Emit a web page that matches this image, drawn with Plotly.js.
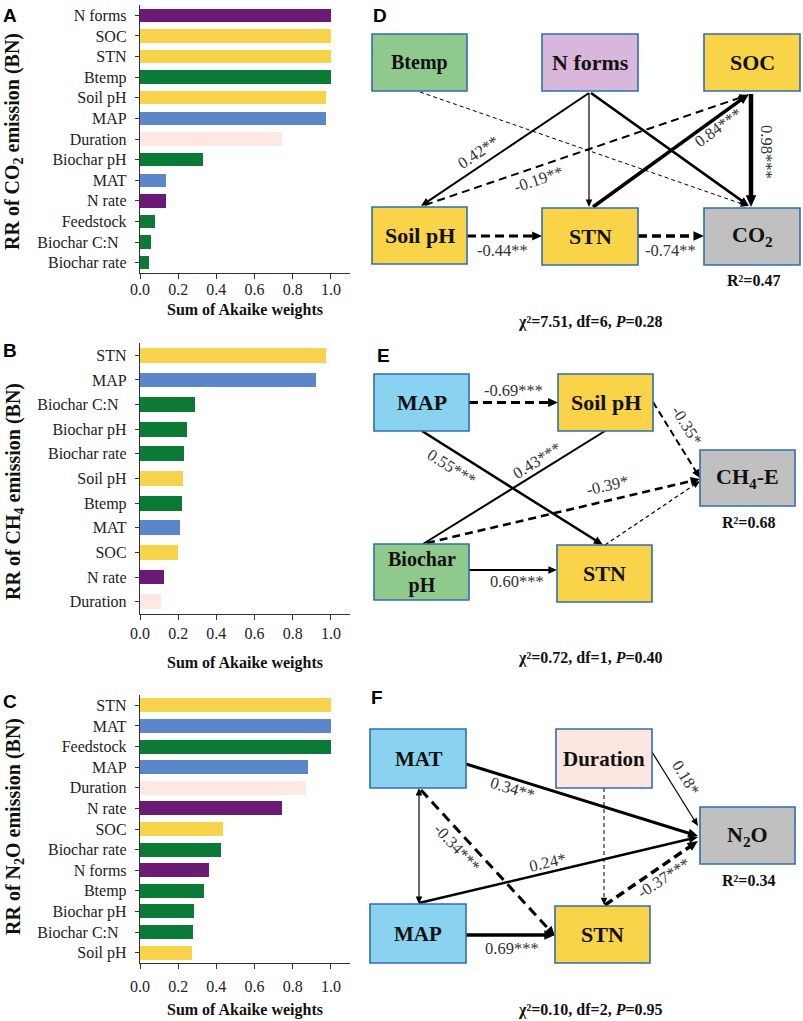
<!DOCTYPE html>
<html><head><meta charset="utf-8">
<script src="https://cdn.plot.ly/plotly-3.0.1.min.js"></script>
<style>html,body{margin:0;padding:0;background:#fff}</style>
</head><body><div id="chart" style="width:803px;height:1021px"></div>
<script>
// ---------------- DATA ----------------
const catsA = ['N forms','SOC','STN','Btemp','Soil pH','MAP','Duration','Biochar pH','MAT','N rate','Feedstock','Biochar C:N','Biochar rate'];
const valsA = [1.0,1.0,1.0,1.0,0.972,0.972,0.742,0.332,0.136,0.134,0.079,0.058,0.049];
const catsB = ['STN','MAP','Biochar C:N','Biochar pH','Biochar rate','Soil pH','Btemp','MAT','SOC','N rate','Duration'];
const valsB = [0.972,0.920,0.286,0.244,0.232,0.227,0.220,0.209,0.199,0.126,0.112];
const catsC = ['STN','MAT','Feedstock','MAP','Duration','N rate','SOC','Biochar rate','N forms','Btemp','Biochar pH','Biochar C:N','Soil pH'];
const valsC = [1.0,1.0,1.0,0.881,0.869,0.742,0.433,0.424,0.361,0.337,0.283,0.277,0.272];
const xTickVals = [0,0.2,0.4,0.6,0.8,1.0];
const groupOf = {'N forms':'N','N rate':'N','SOC':'soil','STN':'soil','Soil pH':'soil',
  'Btemp':'biochar','Biochar pH':'biochar','Feedstock':'biochar','Biochar C:N':'biochar','Biochar rate':'biochar',
  'MAP':'climate','MAT':'climate','Duration':'duration'};

// Path models: from, to, coefficient label
const dFrom = ['Btemp','N forms','Soil pH','N forms','N forms','SOC','STN','Soil pH','STN'];
const dTo   = ['CO2','Soil pH','SOC','STN','CO2','CO2','SOC','STN','CO2'];
const dCoef = ['','0.42**','-0.19**','','','0.98***','0.84***','-0.44**','-0.74**'];
const dFit = {r2:'0.47', chi2:'7.51', df:'6', p:'0.28'};

const eFrom = ['MAP','Soil pH','MAP','Biochar pH','Biochar pH','STN','Biochar pH'];
const eTo   = ['Soil pH','CH4-E','STN','Soil pH','CH4-E','CH4-E','STN'];
const eCoef = ['-0.69***','-0.35*','0.55***','0.43***','-0.39*','','0.60***'];
const eFit = {r2:'0.68', chi2:'0.72', df:'1', p:'0.40'};

const fFrom = ['MAT','Duration','MAT','MAT','MAP','Duration','STN','MAP'];
const fTo   = ['N2O','N2O','MAP','STN','N2O','STN','N2O','STN'];
const fCoef = ['0.34**','0.18*','','-0.34***','0.24*','','-0.37***','0.69***'];
const fFit = {r2:'0.34', chi2:'0.10', df:'2', p:'0.95'};

// ---------------- STYLE / LAYOUT ----------------
const W=803, H=1021;
const SERIF='Liberation Serif, Times New Roman, serif';
const SANS='Liberation Sans, Arial, sans-serif';
const groupColor = {N:'#6b1b74', soil:'#f8d44c', biochar:'#0b7a37', climate:'#5b86c8', duration:'#fde8e3'};
const nodeFill = {'Btemp':'#90c98c','N forms':'#d9b6dc','SOC':'#f9d449','Soil pH':'#f9d449','STN':'#f9d449',
  'CO2':'#c0c0c0','CH4-E':'#c0c0c0','N2O':'#c0c0c0','MAP':'#8ad3f0','MAT':'#8ad3f0','Biochar pH':'#90c98c','Duration':'#fde6df'};
const nodeText = {'CO2':'CO<sub>2</sub>','CH4-E':'CH<sub>4</sub>-E','N2O':'N<sub>2</sub>O','Biochar pH':'Biochar<br>pH'};

const px=x=>x/W, py=y=>1-y/H;
const shapes=[], ann=[];

// bar panels geometry (pixels)
const barPanels = [
  {cats:catsA, vals:valsA, top:5, bot:273, width:0.65, title:'RR of CO<sub>2</sub> emission (BN)', tcy:142, letter:'A', ly:15, tls:-3, st:6},
  {cats:catsB, vals:valsB, top:343, bot:614, width:0.6, title:'RR of CH<sub>4</sub> emission (BN)', tcy:492, letter:'B', ly:351, tls:0, st:15},
  {cats:catsC, vals:valsC, top:695, bot:963, width:0.68, title:'RR of N<sub>2</sub>O emission (BN)', tcy:827, letter:'C', ly:701, tls:4, st:9}
];
const traces=[];
const layout={width:W,height:H,margin:{l:0,r:0,t:0,b:0},paper_bgcolor:'#fff',plot_bgcolor:'rgba(0,0,0,0)',
  showlegend:false,shapes:shapes,annotations:ann,bargap:0};
barPanels.forEach((p,i)=>{
  const sfx = i===0?'':String(i+1);
  traces.push({type:'bar',orientation:'h',x:p.vals,y:p.cats,width:p.width,
    marker:{color:p.cats.map(c=>groupColor[groupOf[c]]),line:{width:0}},
    xaxis:'x'+sfx,yaxis:'y'+sfx,hoverinfo:'skip'});
  layout['xaxis'+sfx]={domain:[px(140),px(350)],range:[0,1.1],anchor:'y'+sfx,showline:true,linecolor:'#333',linewidth:1.2,
    ticks:'outside',ticklen:5,tickcolor:'#333',tickvals:xTickVals,tickformat:'.1f',showgrid:false,zeroline:false,
    tickfont:{family:SERIF,size:16,color:'#222'},fixedrange:true,ticklabelstandoff:p.tls,
    title:{text:'<b>Sum of Akaike weights</b>',font:{family:SERIF,size:16,color:'#111'},standoff:p.st}};
  layout['yaxis'+sfx]={domain:[py(p.bot),py(p.top)],type:'category',categoryarray:p.cats,
    range:[p.cats.length-0.5,-0.5],anchor:'x'+sfx,showline:true,linecolor:'#333',linewidth:1.2,
    ticks:'outside',ticklen:4,tickcolor:'#333',showgrid:false,zeroline:false,fixedrange:true,ticklabelstandoff:5,
    tickvals:p.cats,ticktext:p.cats.map(c=>c==='Biochar C:N'?c+'\u00a0\u00a0':c),
    tickfont:{family:SERIF,size:16,color:'#222'}};
  ann.push({xref:'paper',yref:'paper',x:px(14),y:py(p.tcy),text:'<b>'+p.title+'</b>',textangle:-90,showarrow:false,
    xanchor:'center',yanchor:'middle',font:{family:SERIF,size:20,color:'#111'}});
  ann.push({xref:'paper',yref:'paper',x:px(10),y:py(p.ly),text:'<b>'+p.letter+'</b>',showarrow:false,
    xanchor:'center',yanchor:'middle',font:{family:SANS,size:19,color:'#000'}});
});

// diagram helpers
function addBox(name,b,size){
  shapes.push({type:'rect',xref:'paper',yref:'paper',x0:px(b[0]),x1:px(b[1]),y0:py(b[3]),y1:py(b[2]),
    fillcolor:nodeFill[name],line:{color:'#2f6db3',width:1.6},layer:'above'});
  ann.push({xref:'paper',yref:'paper',x:px((b[0]+b[1])/2),y:py((b[2]+b[3])/2),text:'<b>'+(nodeText[name]||name)+'</b>',
    showarrow:false,xanchor:'center',yanchor:'middle',font:{family:SERIF,size:size,color:'#111'}});
}
function head(tip,ux,uy,w){
  const hl=6+w*1.3, hw=2.6+w*0.6;
  const bx=tip[0]-ux*hl, by=tip[1]-uy*hl, nx=-uy, ny=ux;
  shapes.push({type:'path',xref:'paper',yref:'paper',
    path:`M${px(tip[0])},${py(tip[1])} L${px(bx+nx*hw)},${py(by+ny*hw)} L${px(bx-nx*hw)},${py(by-ny*hw)} Z`,
    fillcolor:'#000',line:{width:0},layer:'above'});
  return hl;
}
function addEdge(g){
  const p0=g.p0,p1=g.p1;
  const dx=p1[0]-p0[0], dy=p1[1]-p0[1], L=Math.hypot(dx,dy), ux=dx/L, uy=dy/L;
  let a=p0.slice(), b=p1.slice();
  if(g.head==='end'||g.head==='both'){const hl=head(p1,ux,uy,g.w); b=[p1[0]-ux*hl*0.7,p1[1]-uy*hl*0.7];}
  if(g.head==='both'){const hl=head(p0,-ux,-uy,g.w); a=[p0[0]+ux*hl*0.7,p0[1]+uy*hl*0.7];}
  shapes.push({type:'line',xref:'paper',yref:'paper',x0:px(a[0]),y0:py(a[1]),x1:px(b[0]),y1:py(b[1]),
    line:{color:'#000',width:g.w,dash:g.dash||'solid'},layer:'above'});
}
function addLabel(text,pos,ang){
  if(!text) return;
  ann.push({xref:'paper',yref:'paper',x:px(pos[0]),y:py(pos[1]),text:text,textangle:ang||0,showarrow:false,
    xanchor:'center',yanchor:'middle',font:{family:SERIF,size:16.5,color:'#333'}});
}
function addText(html,pos,size){
  ann.push({xref:'paper',yref:'paper',x:px(pos[0]),y:py(pos[1]),text:html,showarrow:false,
    xanchor:'center',yanchor:'middle',font:{family:SERIF,size:size,color:'#111'}});
}
function drawModel(boxes,sizes,from,to,coef,geom,fit,r2pos,chipos,letter,lpos){
  from.forEach((f,i)=>{ addEdge(geom[i]); });
  Object.keys(boxes).forEach(k=>addBox(k,boxes[k],sizes[k]||22));
  from.forEach((f,i)=>{ addLabel(coef[i],geom[i].lab,geom[i].ang); });
  addText('<b>R²='+fit.r2+'</b>',r2pos,16);
  addText('<b>χ²='+fit.chi2+', df='+fit.df+', <i>P</i>='+fit.p+'</b>',chipos,16);
  ann.push({xref:'paper',yref:'paper',x:px(lpos[0]),y:py(lpos[1]),text:'<b>'+letter+'</b>',showarrow:false,
    xanchor:'center',yanchor:'middle',font:{family:SANS,size:19,color:'#000'}});
}

// Panel D
const dBoxes = {'Btemp':[372,467,34,91],'N forms':[542,638,34,91],'SOC':[704,800,34,91],
  'Soil pH':[372,467,207,264],'STN':[542,638,208,265],'CO2':[704,800,208,265]};
const dGeom = [
  {p0:[420,92],p1:[748,206],w:1,dash:'4px,3px',head:'end'},
  {p0:[589,93],p1:[421,206],w:2,head:'end',lab:[478,153],ang:-34},
  {p0:[425,205],p1:[748,95],w:2,dash:'8px,5px',head:'end',lab:[538,179],ang:-19},
  {p0:[589,93],p1:[589,207],w:1.2,head:'end'},
  {p0:[591,93],p1:[749,206],w:2.6,head:'end'},
  {p0:[751,94],p1:[751,207],w:4.5,head:'end',lab:[767,152],ang:90},
  {p0:[593,207],p1:[749,94],w:3.6,head:'end',lab:[718,127],ang:-36},
  {p0:[467,236],p1:[542,236],w:3,dash:'9px,5px',head:'end',lab:[503,250],ang:0},
  {p0:[638,236],p1:[704,236],w:3.5,dash:'9px,5px',head:'end',lab:[670,250],ang:0}
];
drawModel(dBoxes,{'Btemp':20},dFrom,dTo,dCoef,dGeom,dFit,[753,280],[590,322],'D',[380,15]);

// Panel E
const eBoxes = {'MAP':[374,469,374,431],'Soil pH':[558,653,374,431],'CH4-E':[700,795,450,506],
  'Biochar pH':[374,469,544,600],'STN':[557,652,545,602]};
const eGeom = [
  {p0:[469,402.5],p1:[558,402.5],w:3,dash:'9px,5px',head:'end',lab:[513,391],ang:0},
  {p0:[653,402],p1:[700,478],w:2,dash:'7px,4px',head:'end',lab:[687,425],ang:58},
  {p0:[422,431],p1:[603,545],w:2.5,head:'end',lab:[452,467],ang:32},
  {p0:[423,544],p1:[605,431],w:2,head:'none',lab:[537,460],ang:-32},
  {p0:[427,543],p1:[700,479],w:2.6,dash:'8px,5px',head:'end',lab:[607,485],ang:-13},
  {p0:[605,545],p1:[700,481],w:1.2,dash:'4px,3px',head:'end'},
  {p0:[469,570],p1:[557,570],w:2,head:'end',lab:[517,581],ang:0}
];
drawModel(eBoxes,{'Biochar pH':20},eFrom,eTo,eCoef,eGeom,eFit,[748,522],[590,658],'E',[383,355]);

// Panel F
const fBoxes = {'MAT':[370,466,729,788],'Duration':[556,652,729,788],'N2O':[700,795,807,864],
  'MAP':[370,466,904,963],'STN':[555,650,906,963]};
const fGeom = [
  {p0:[466,764],p1:[698,836],w:3,head:'end',lab:[512,788],ang:17},
  {p0:[652,752],p1:[698,826],w:1.2,head:'end',lab:[686,777],ang:59},
  {p0:[419,788],p1:[419,904],w:1.2,head:'both'},
  {p0:[421,790],p1:[555,936],w:3,dash:'10px,6px',head:'end',lab:[457,847],ang:47},
  {p0:[419,903],p1:[698,837],w:2.5,head:'end',lab:[547,862],ang:-13},
  {p0:[604,788],p1:[604,905],w:1,dash:'4px,3px',head:'end'},
  {p0:[605,905],p1:[698,841],w:3.5,dash:'9px,5px',head:'end',lab:[663,878],ang:-33},
  {p0:[466,935],p1:[555,935],w:3.6,head:'end',lab:[512,948],ang:0}
];
drawModel(fBoxes,{'MAT':21,'Duration':21,'MAP':21,'STN':22,'N2O':22},fFrom,fTo,fCoef,fGeom,fFit,[748,880],[590,1010],'F',[377,697]);

Plotly.newPlot('chart',traces,layout,{displayModeBar:false,staticPlot:true});
</script></body></html>
